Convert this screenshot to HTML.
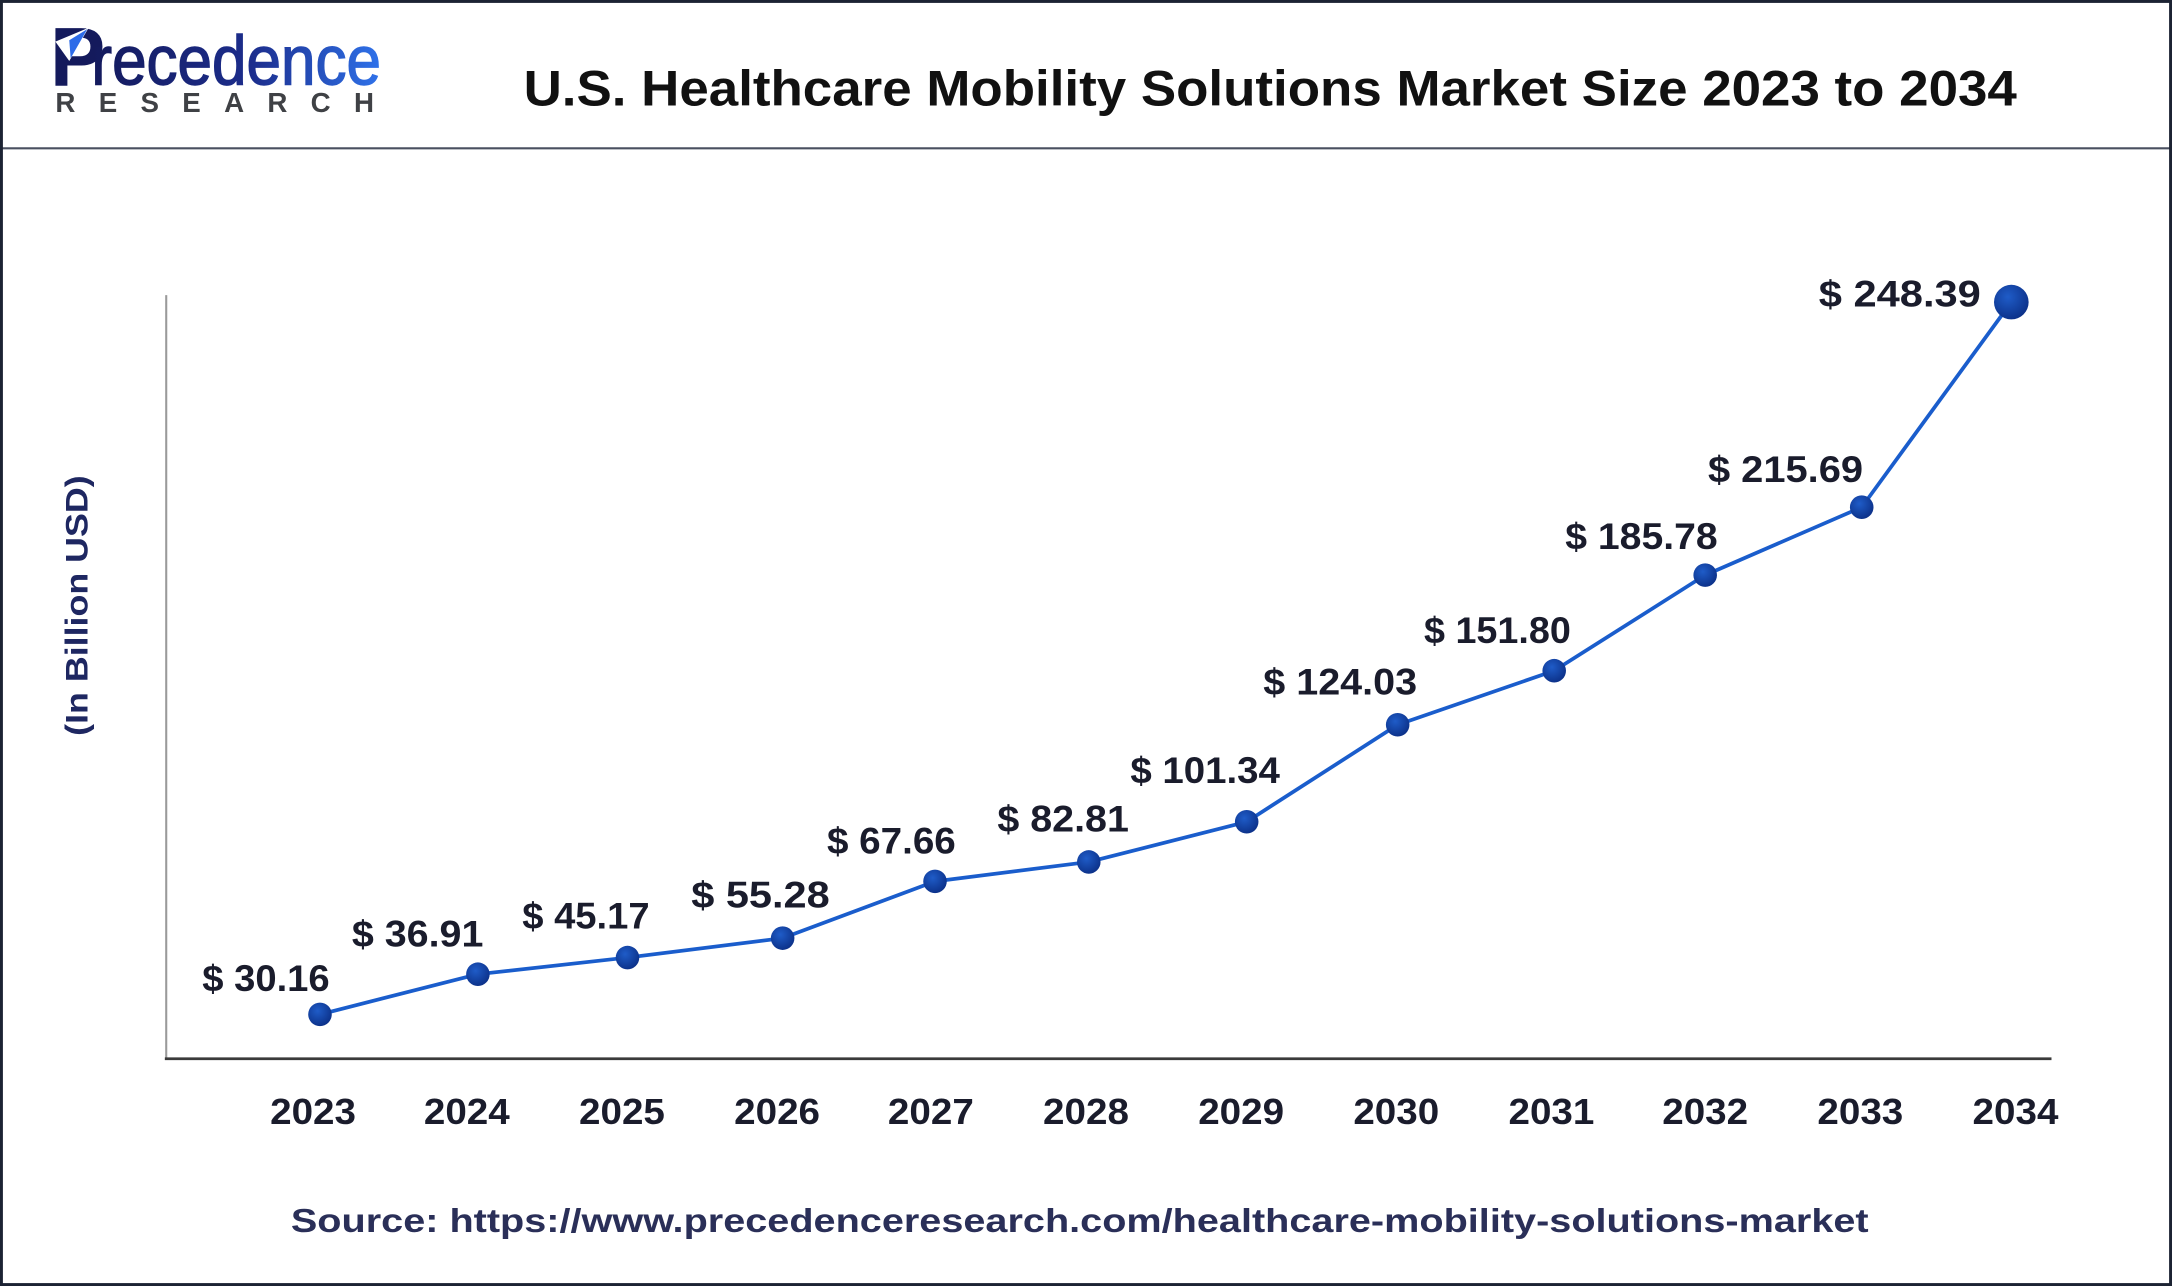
<!DOCTYPE html>
<html>
<head>
<meta charset="utf-8">
<style>
  html, body { margin: 0; padding: 0; background: #ffffff; }
  body { width: 2172px; height: 1286px; overflow: hidden; }
  svg { display: block; }
  text { font-family: "Liberation Sans", Arial, sans-serif; }
</style>
</head>
<body>
<svg width="2172" height="1286" viewBox="0 0 1568 928" preserveAspectRatio="none" xmlns="http://www.w3.org/2000/svg">
  <defs>
    <linearGradient id="logoGrad" x1="0" y1="0" x2="1" y2="0">
      <stop offset="0" stop-color="#141a5c"/>
      <stop offset="0.55" stop-color="#1c2d8c"/>
      <stop offset="1" stop-color="#2f72ea"/>
    </linearGradient>
    <radialGradient id="dot" cx="0.4" cy="0.35" r="0.7">
      <stop offset="0" stop-color="#1f5cc8"/>
      <stop offset="1" stop-color="#0b2f86"/>
    </radialGradient>
  </defs>

  <!-- background -->
  <rect x="0" y="0" width="1568" height="928" fill="#ffffff"/>

  <!-- header separator -->
  <line x1="0" y1="107" x2="1568" y2="107" stroke="#4a5060" stroke-width="1.5"/>

  <!-- logo -->
  <text x="36" y="62" font-size="60" font-weight="bold" fill="#141a5c">P</text>
  <polygon points="40,30 64,20 50,44" fill="#ffffff"/>
  <polygon points="50,29 63,21 51,42" fill="#2d6be8"/>
  <text x="66" y="61" font-size="50" fill="url(#logoGrad)" textLength="209" lengthAdjust="spacingAndGlyphs" stroke="url(#logoGrad)" stroke-width="1">recedence</text>
  <text x="40" y="81" font-size="20" font-weight="bold" fill="#3f4145" textLength="230" lengthAdjust="spacing">RESEARCH</text>

  <!-- title -->
  <text x="378" y="76" font-size="36" font-weight="bold" fill="#111111" textLength="1078" lengthAdjust="spacingAndGlyphs">U.S. Healthcare Mobility Solutions Market Size 2023 to 2034</text>

  <!-- axes -->
  <line x1="120" y1="213" x2="120" y2="764" stroke="#9a9a9a" stroke-width="1.5"/>
  <line x1="119" y1="764" x2="1481" y2="764" stroke="#3a3a3a" stroke-width="2"/>

  <!-- y-axis label -->
  <text transform="translate(63,437) rotate(-90)" text-anchor="middle" font-size="23" font-weight="bold" fill="#1e2761" textLength="188" lengthAdjust="spacingAndGlyphs">(In Billion USD)</text>

  <!-- series line -->
  <polyline fill="none" stroke="#1a5dcc" stroke-width="2.7" stroke-linejoin="round"
    points="231,732 345,703 453,691 565,677 675,636 786,622 900,593 1009,523 1122,484 1231,415 1344,366 1452,218"/>

  <!-- markers -->
  <g fill="url(#dot)">
    <circle cx="231" cy="732" r="8.5"/>
    <circle cx="345" cy="703" r="8.5"/>
    <circle cx="453" cy="691" r="8.5"/>
    <circle cx="565" cy="677" r="8.5"/>
    <circle cx="675" cy="636" r="8.5"/>
    <circle cx="786" cy="622" r="8.5"/>
    <circle cx="900" cy="593" r="8.5"/>
    <circle cx="1009" cy="523" r="8.5"/>
    <circle cx="1122" cy="484" r="8.5"/>
    <circle cx="1231" cy="415" r="8.5"/>
    <circle cx="1344" cy="366" r="8.5"/>
    <circle cx="1452" cy="218" r="12.5"/>
  </g>

  <!-- value labels -->
  <g font-size="27" font-weight="bold" fill="#1a1c2c">
    <text x="146" y="715" textLength="92" lengthAdjust="spacingAndGlyphs">$ 30.16</text>
    <text x="254" y="683" textLength="95" lengthAdjust="spacingAndGlyphs">$ 36.91</text>
    <text x="377" y="670" textLength="92" lengthAdjust="spacingAndGlyphs">$ 45.17</text>
    <text x="499" y="655" textLength="100" lengthAdjust="spacingAndGlyphs">$ 55.28</text>
    <text x="597" y="616" textLength="93" lengthAdjust="spacingAndGlyphs">$ 67.66</text>
    <text x="720" y="600" textLength="95" lengthAdjust="spacingAndGlyphs">$ 82.81</text>
    <text x="816" y="565" textLength="108" lengthAdjust="spacingAndGlyphs">$ 101.34</text>
    <text x="912" y="501" textLength="111" lengthAdjust="spacingAndGlyphs">$ 124.03</text>
    <text x="1028" y="464" textLength="106" lengthAdjust="spacingAndGlyphs">$ 151.80</text>
    <text x="1130" y="396" textLength="110" lengthAdjust="spacingAndGlyphs">$ 185.78</text>
    <text x="1233" y="348" textLength="112" lengthAdjust="spacingAndGlyphs">$ 215.69</text>
    <text x="1313" y="221" textLength="117" lengthAdjust="spacingAndGlyphs">$ 248.39</text>
  </g>

  <!-- x-axis labels -->
  <g font-size="26" font-weight="bold" fill="#1a1c2c" text-anchor="middle">
    <text x="226" y="811" textLength="62" lengthAdjust="spacingAndGlyphs">2023</text>
    <text x="337" y="811" textLength="62" lengthAdjust="spacingAndGlyphs">2024</text>
    <text x="449" y="811" textLength="62" lengthAdjust="spacingAndGlyphs">2025</text>
    <text x="561" y="811" textLength="62" lengthAdjust="spacingAndGlyphs">2026</text>
    <text x="672" y="811" textLength="62" lengthAdjust="spacingAndGlyphs">2027</text>
    <text x="784" y="811" textLength="62" lengthAdjust="spacingAndGlyphs">2028</text>
    <text x="896" y="811" textLength="62" lengthAdjust="spacingAndGlyphs">2029</text>
    <text x="1008" y="811" textLength="62" lengthAdjust="spacingAndGlyphs">2030</text>
    <text x="1120" y="811" textLength="62" lengthAdjust="spacingAndGlyphs">2031</text>
    <text x="1231" y="811" textLength="62" lengthAdjust="spacingAndGlyphs">2032</text>
    <text x="1343" y="811" textLength="62" lengthAdjust="spacingAndGlyphs">2033</text>
    <text x="1455" y="811" textLength="62" lengthAdjust="spacingAndGlyphs">2034</text>
  </g>

  <!-- source -->
  <text x="210" y="889" font-size="24" font-weight="bold" fill="#2a2f58" textLength="1139" lengthAdjust="spacingAndGlyphs">Source: https://www.precedenceresearch.com/healthcare-mobility-solutions-market</text>

  <!-- outer border -->
  <rect x="1" y="1" width="1566" height="926" fill="none" stroke="#1c2333" stroke-width="2.2"/>
</svg>
</body>
</html>
